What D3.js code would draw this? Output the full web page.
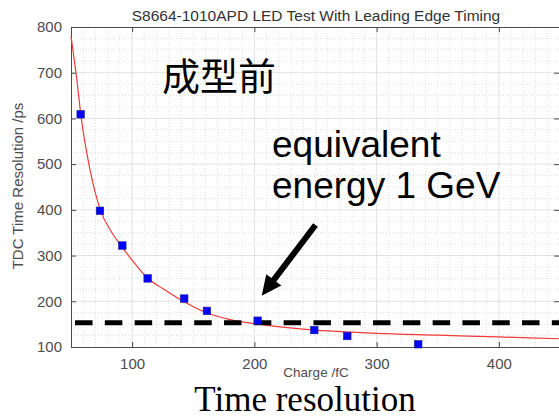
<!DOCTYPE html>
<html><head><meta charset="utf-8">
<script src="https://cdn.jsdelivr.net/npm/d3@7"></script>
<style>
html,body{margin:0;padding:0;background:#fff;}
svg{display:block;}
</style>
</head><body>
<script>
// ---- data ----
const charges = [57.9, 73.7, 92, 112.7, 142.6, 161.2, 202.7, 249, 276, 334];
const resolutions = [609, 398, 322, 250, 206, 179, 157.5, 137, 124, 106];
const fitCharges = [50, 55, 58, 65, 74, 83, 92, 100, 112, 125, 140, 160, 180, 200, 225, 250, 275, 300, 350, 400, 450];
const fitValues  = [780, 680, 609, 495, 400, 352, 318, 290, 252, 228, 203, 176, 160, 151, 143, 137, 133, 130, 126, 122, 118];
const thresholdValue = [153];
const xTicks = [100, 200, 300, 400];
const yTicks = [100, 200, 300, 400, 500, 600, 700, 800];
const title = "S8664-1010APD LED Test With Leading Edge Timing";
const xLabel = "Charge /fC";
const yLabel = "TDC Time Resolution /ps";
const arrowFrom = [250, 367];
const arrowTo = [206, 212];

const W = 559, H = 419;
const svg = d3.select("body").append("svg").attr("width", W).attr("height", H);

const x = d3.scaleLinear().domain([50, 450]).range([71, 560]);
const y = d3.scaleLinear().domain([100, 800]).range([347, 27]);
const [x0, x1] = x.range(), [y0, y1] = y.range();

// minor grid
const minorX = d3.range(60, 450, 10).filter(v => v % 100 !== 0);
const minorY = d3.range(125, 800, 25).filter(v => v % 100 !== 0);
const grid = svg.append("g");
grid.selectAll(".mx").data(minorX).enter().append("line")
  .attr("x1", d => x(d)).attr("x2", d => x(d)).attr("y1", y1).attr("y2", y0)
  .attr("stroke", "#d4d4d4").attr("stroke-width", 0.8).attr("stroke-dasharray", "1,2");
grid.selectAll(".my").data(minorY).enter().append("line")
  .attr("y1", d => y(d)).attr("y2", d => y(d)).attr("x1", x0).attr("x2", x1)
  .attr("stroke", "#d4d4d4").attr("stroke-width", 0.8).attr("stroke-dasharray", "1,2");
// major grid
grid.selectAll(".Mx").data(xTicks).enter().append("line")
  .attr("x1", d => x(d)).attr("x2", d => x(d)).attr("y1", y1).attr("y2", y0)
  .attr("stroke", "#e2e2e2").attr("stroke-width", 1);
grid.selectAll(".My").data(yTicks.slice(1, -1)).enter().append("line")
  .attr("y1", d => y(d)).attr("y2", d => y(d)).attr("x1", x0).attr("x2", x1)
  .attr("stroke", "#e2e2e2").attr("stroke-width", 1);

// axes (box with inward ticks)
const axisColor = "#4a4a4a";
const font = "'Liberation Sans', Arial, Helvetica, sans-serif";
const gB = svg.append("g").attr("transform", `translate(0,${y0})`)
  .call(d3.axisBottom(x).tickValues(xTicks).tickSizeInner(-5).tickSizeOuter(0).tickPadding(11));
const gT = svg.append("g").attr("transform", `translate(0,${y1})`)
  .call(d3.axisTop(x).tickValues(xTicks).tickSizeInner(-5).tickSizeOuter(0).tickFormat(""));
const gL = svg.append("g").attr("transform", `translate(${x0},0)`)
  .call(d3.axisLeft(y).tickValues(yTicks).tickSizeInner(-5).tickSizeOuter(0).tickPadding(9));
const gR = svg.append("g").attr("transform", `translate(${x1 - 1},0)`)
  .call(d3.axisRight(y).tickValues(yTicks).tickSizeInner(-5).tickSizeOuter(0).tickFormat(""));
[gB, gT, gL, gR].forEach(g => {
  g.selectAll("path,line").attr("stroke", axisColor);
  g.selectAll("text").attr("fill", "#4d4d4d").style("font-family", font).style("font-size", "15px");
});

// fit curve
const line = d3.line().x(d => x(d[0])).y(d => y(d[1])).curve(d3.curveMonotoneX);
svg.append("path").datum(d3.zip(fitCharges, fitValues))
  .attr("d", line).attr("fill", "none").attr("stroke", "#f03a3a").attr("stroke-width", 1.2);

// threshold dashed line
svg.selectAll(".thr").data(thresholdValue).enter().append("line")
  .attr("x1", x(53.3)).attr("x2", x1).attr("y1", d => y(d)).attr("y2", d => y(d))
  .attr("stroke", "#000").attr("stroke-width", 5).attr("stroke-dasharray", "17.5,12.3");

// data squares
const s = 7.5;
svg.selectAll(".pt").data(d3.zip(charges, resolutions)).enter().append("rect")
  .attr("x", d => x(d[0]) - s / 2).attr("y", d => y(d[1]) - s / 2)
  .attr("width", s).attr("height", s)
  .attr("fill", "#0000ff").attr("stroke", "#1a1a8c").attr("stroke-width", 0.6);

// arrow annotation
{
  const ax0 = x(arrowFrom[0]), ay0 = y(arrowFrom[1]);
  const ax1 = x(arrowTo[0]), ay1 = y(arrowTo[1]);
  const dx = ax1 - ax0, dy = ay1 - ay0, L = Math.hypot(dx, dy);
  const ux = dx / L, uy = dy / L, px = -uy, py = ux;
  const headLen = 20, headW = 9.5, shaftW = 3;
  const bx = ax1 - ux * headLen, by = ay1 - uy * headLen;
  const pts = [
    [ax0 + px * shaftW, ay0 + py * shaftW],
    [bx + px * shaftW, by + py * shaftW],
    [bx + px * headW, by + py * headW],
    [ax1, ay1],
    [bx - px * headW, by - py * headW],
    [bx - px * shaftW, by - py * shaftW],
    [ax0 - px * shaftW, ay0 - py * shaftW]
  ];
  svg.append("path").attr("d", "M" + pts.map(p => p.join(",")).join("L") + "Z").attr("fill", "#000");
}

// texts
svg.append("text").attr("x", 316).attr("y", 21).attr("text-anchor", "middle")
  .style("font-family", font).style("font-size", "15.5px").attr("fill", "#333").text(title);
svg.append("text").attr("x", 316).attr("y", 377).attr("text-anchor", "middle")
  .style("font-family", font).style("font-size", "13.5px").attr("fill", "#4d4d4d").text(xLabel);
svg.append("text").attr("transform", "translate(23,186) rotate(-90)").attr("text-anchor", "middle")
  .style("font-family", font).style("font-size", "15px").attr("fill", "#4d4d4d").text(yLabel);

svg.append("text").attr("x", 162).attr("y", 90)
  .style("font-family", "'Noto Sans CJK SC', 'Noto Sans CJK JP', sans-serif").style("font-size", "38px")
  .attr("fill", "#000").text("成型前");
svg.append("text").attr("x", 272).attr("y", 157)
  .style("font-family", font).style("font-size", "37px").attr("fill", "#000").text("equivalent");
svg.append("text").attr("x", 272).attr("y", 198)
  .style("font-family", font).style("font-size", "37px").attr("fill", "#000").text("energy 1 GeV");
svg.append("text").attr("x", 305).attr("y", 411).attr("text-anchor", "middle")
  .style("font-family", "'Liberation Serif', 'Times New Roman', serif").style("font-size", "35px")
  .attr("fill", "#000").text("Time resolution");
</script>
</body></html>
